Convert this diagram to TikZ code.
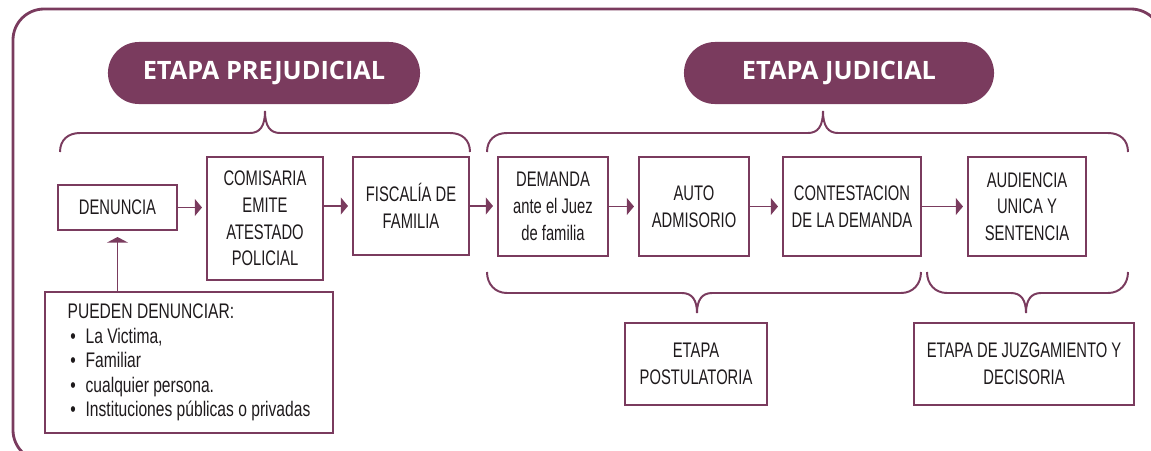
\documentclass[tikz,border=0pt]{standalone}
\usepackage{fontspec}
\setmainfont[FakeStretch=0.7]{Liberation Sans}
\newfontfamily\anchafont[FakeStretch=0.74]{Liberation Sans}
\newfontfamily\titulofont{Open Sans}
\usepackage{tikz}
\usetikzlibrary{arrows.meta}
\definecolor{vino}{RGB}{122,59,94}
\definecolor{tinta}{RGB}{30,26,28}
\newcommand{\vineta}{\hspace{0.07cm}\makebox[0.38cm][l]{\textbullet}}
\tikzset{every picture/.style={line width=0.75pt}}
\tikzset{
  caja/.style={draw=vino, line width=1.4pt, align=center, text=tinta, inner sep=0pt,
    font=\fontsize{15}{19}\selectfont},
  etapa/.style={fill=vino, rounded corners=0.775cm, minimum height=1.55cm, text=white,
    font=\titulofont\bfseries\fontsize{18}{20}\selectfont},
  flecha/.style={vino, line width=1.4pt, -{Triangle[length=0.18cm,width=0.42cm]}, shorten >=0.1cm},
  llave/.style={vino, line width=1.4pt},
}

\begin{document}
\begin{tikzpicture}[x=0.025cm, y=-0.025cm]
\path[use as bounding box, clip] (0,0) rectangle (1151,450);
\draw[vino, line width=2pt, rounded corners=0.775cm] (13,9) rectangle (1162,461);
%
\node[etapa, minimum width=7.8cm] (pre) at (264,73) {ETAPA PREJUDICIAL};
\node[etapa, minimum width=7.75cm] (jud) at (839,73) {ETAPA JUDICIAL};
%
\draw[llave] (60,152) .. controls (60,140) and (68,133) .. (80,133) -- (250,133)
  .. controls (260,133) and (265,126) .. (265,111) .. controls (265,126) and (270,133) .. (280,133)
  -- (450,133) .. controls (462,133) and (470,140) .. (470,152);
\draw[llave] (487,152) .. controls (487,140) and (495,133) .. (507,133) -- (808,133)
  .. controls (818,133) and (823,126) .. (823,111) .. controls (823,126) and (828,133) .. (838,133)
  -- (1108,133) .. controls (1120,133) and (1128,140) .. (1128,152);
%
\node[caja, minimum width=2.975cm, minimum height=1.125cm] (den) at (117.5,207.5) {DENUNCIA};
\node[caja, minimum width=2.9cm, minimum height=3.075cm] (com) at (265,218.5) {COMISARIA\\EMITE\\ATESTADO\\POLICIAL};
\node[caja, minimum width=2.9cm, minimum height=2.45cm] (fis) at (411,206) {FISCALÍA DE\\FAMILIA};
\node[caja, minimum width=2.75cm, minimum height=2.475cm] (dem) at (553,206.5) {DEMANDA\\ante el Juez\\de familia};
\node[caja, minimum width=2.75cm, minimum height=2.475cm] (aut) at (694,206.5) {AUTO\\ADMISORIO};
\node[caja, minimum width=3.45cm, minimum height=2.475cm] (con) at (852,206.5) {CONTESTACION\\DE LA DEMANDA};
\node[caja, minimum width=2.95cm, minimum height=2.475cm] (aud) at (1027,206.5) {AUDIENCIA\\UNICA Y\\SENTENCIA};
%
\node[caja, minimum width=7.2cm, minimum height=3.525cm, align=left,
  font=\anchafont\fontsize{15}{17.5}\selectfont] (pue) at (189,362.5)
  {PUEDEN DENUNCIAR:\\\vineta La Victima,\\\vineta Familiar\\\vineta cualquier persona.\\\vineta Instituciones públicas o privadas};
%
\draw[flecha] (den.east) -- (den.east -| com.west);
\draw[flecha] (fis.west -| com.east) -- (fis.west);
\draw[flecha] (fis.east) -- (fis.east -| dem.west);
\draw[flecha] (dem.east) -- (aut.west);
\draw[flecha] (aut.east) -- (con.west);
\draw[flecha] (con.east) -- (aud.west);
\draw[flecha, -{Triangle[length=0.14cm,width=0.52cm]}, shorten >=0.15cm] (pue.north -| den.south) -- (den.south);
%
\draw[llave] (487,272) .. controls (487,284) and (495,293) .. (507,293) -- (682,293)
  .. controls (692,293) and (697,300) .. (697,313) .. controls (697,300) and (702,293) .. (712,293)
  -- (901,293) .. controls (913,293) and (921,284) .. (921,272);
\draw[llave] (927,272) .. controls (927,284) and (935,293) .. (947,293) -- (1011,293)
  .. controls (1021,293) and (1026,300) .. (1026,313) .. controls (1026,300) and (1031,293) .. (1041,293)
  -- (1108,293) .. controls (1120,293) and (1128,284) .. (1128,272);
%
\node[caja, minimum width=3.55cm, minimum height=2.05cm] (pos) at (696,364) {ETAPA\\POSTULATORIA};
\node[caja, minimum width=5.5cm, minimum height=2.05cm] (juz) at (1024,364) {ETAPA DE JUZGAMIENTO Y\\DECISORIA};
\end{tikzpicture}
\end{document}
